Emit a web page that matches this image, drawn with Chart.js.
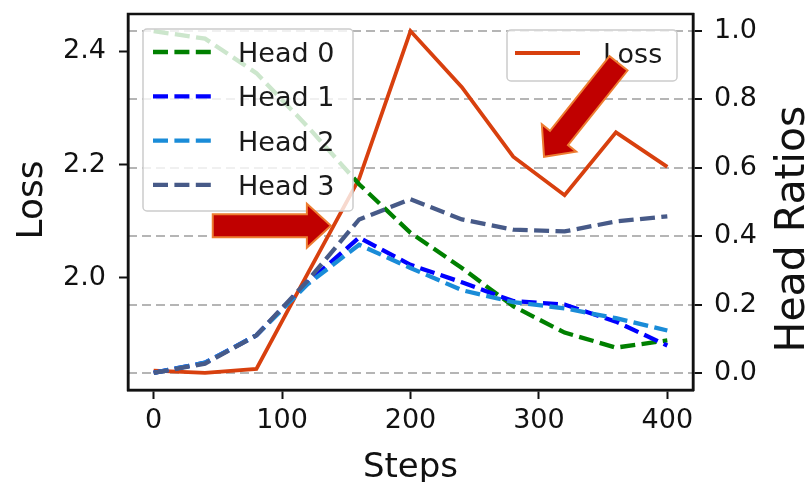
<!DOCTYPE html>
<html>
<head>
<meta charset="utf-8">
<script src="https://cdn.jsdelivr.net/npm/chart.js@4.4.0/dist/chart.umd.min.js"></script>
<style>
html, body { margin: 0; padding: 0; background: #fff; overflow: hidden; }
#wrap { width: 805px; height: 482px; }
</style>
</head>
<body>
<div id="wrap"><canvas id="myChart" width="805" height="482"></canvas></div>
<script>
// data
const steps = [0, 40, 80, 120, 160, 200, 240, 280, 320, 360, 400];
const loss  = [1.836, 1.832, 1.839, 2.008, 2.175, 2.436, 2.337, 2.214, 2.146, 2.257, 2.196];
const head0 = [1.0, 0.978, 0.877, 0.72, 0.552, 0.41, 0.307, 0.195, 0.118, 0.074, 0.095];
const head1 = [0.0, 0.03, 0.11, 0.265, 0.396, 0.316, 0.265, 0.21, 0.2, 0.15, 0.08];
const head2 = [0.0, 0.03, 0.11, 0.26, 0.375, 0.307, 0.242, 0.207, 0.189, 0.16, 0.124];
const head3 = [0.0, 0.027, 0.11, 0.27, 0.449, 0.508, 0.449, 0.419, 0.414, 0.443, 0.458];

const headLabels = ['Head 0', 'Head 1', 'Head 2', 'Head 3'];
const headColors = ['#008000', '#0000ff', '#1a8cd8', '#475a88'];
const lossColor = '#d8400e';

const stepTicks = [0, 100, 200, 300, 400];
const lossTicks = [2.0, 2.2, 2.4];
const ratioTicks = [0.0, 0.2, 0.4, 0.6, 0.8, 1.0];

// annotation arrows, in (step, loss) units
const arrows = [
    { from: [46, 2.092], to: [138, 2.092] },
    { from: [362, 2.379], to: [304, 2.214] }
];

const FONT = "'DejaVu Sans', sans-serif";
const INK = '#111';

function pts(ys) {
    return steps.map((s, i) => ({ x: s, y: ys[i] }));
}

// matplotlib style 5% margins
const lossPad = (Math.max(...loss) - Math.min(...loss)) * 0.05;
const allHeads = head0.concat(head1, head2, head3);
const headPad = (Math.max(...allHeads) - Math.min(...allHeads)) * 0.05;
const stepPad = (steps[steps.length - 1] - steps[0]) * 0.05;

const headSets = [head0, head1, head2, head3].map((h, i) => ({
    label: headLabels[i],
    data: pts(h),
    yAxisID: 'yHead',
    borderColor: headColors[i],
    borderWidth: 4.3,
    borderDash: [15, 6.4],
    borderCapStyle: 'butt',
    pointRadius: 0,
    tension: 0,
    fill: false,
    order: 4 - i
}));

function roundRect(ctx, x, y, w, h, r) {
    ctx.beginPath();
    ctx.moveTo(x + r, y);
    ctx.arcTo(x + w, y, x + w, y + h, r);
    ctx.arcTo(x + w, y + h, x, y + h, r);
    ctx.arcTo(x, y + h, x, y, r);
    ctx.arcTo(x, y, x + w, y, r);
    ctx.closePath();
}

function drawLegend(ctx, box, sets, rowH, sample) {
    ctx.save();
    roundRect(ctx, box.x, box.y, box.w, box.h, 4);
    ctx.fillStyle = 'rgba(255,255,255,0.8)';
    ctx.fill();
    ctx.strokeStyle = '#cccccc';
    ctx.lineWidth = 1.5;
    ctx.stroke();
    ctx.font = '27px ' + FONT;
    ctx.textBaseline = 'alphabetic';
    ctx.textAlign = 'left';
    sets.forEach((ds, i) => {
        const y = box.y + 23 + i * rowH;
        ctx.beginPath();
        ctx.setLineDash(ds.borderDash || []);
        ctx.lineDashOffset = 0;
        ctx.strokeStyle = ds.borderColor;
        ctx.lineWidth = ds.borderWidth;
        ctx.moveTo(box.x + sample[0], y);
        ctx.lineTo(box.x + sample[1], y);
        ctx.stroke();
        ctx.setLineDash([]);
        ctx.fillStyle = '#1a1a1a';
        ctx.fillText(ds.label, box.x + sample[2], y + 10);
    });
    ctx.restore();
}

function drawArrow(ctx, x1, y1, x2, y2) {
    const shaft = 23, headW = 44, headL = 24;
    const dx = x2 - x1, dy = y2 - y1, len = Math.hypot(dx, dy);
    const ux = dx / len, uy = dy / len, nx = -uy, ny = ux;
    const bx = x2 - ux * headL, by = y2 - uy * headL;
    const p = [
        [x1 + nx * shaft / 2, y1 + ny * shaft / 2],
        [bx + nx * shaft / 2, by + ny * shaft / 2],
        [bx + nx * headW / 2, by + ny * headW / 2],
        [x2, y2],
        [bx - nx * headW / 2, by - ny * headW / 2],
        [bx - nx * shaft / 2, by - ny * shaft / 2],
        [x1 - nx * shaft / 2, y1 - ny * shaft / 2]
    ];
    ctx.save();
    ctx.beginPath();
    ctx.moveTo(p[0][0], p[0][1]);
    for (let i = 1; i < p.length; i++) ctx.lineTo(p[i][0], p[i][1]);
    ctx.closePath();
    ctx.fillStyle = '#c00000';
    ctx.fill();
    ctx.strokeStyle = '#ed7d31';
    ctx.lineWidth = 2;
    ctx.lineJoin = 'miter';
    ctx.stroke();
    ctx.restore();
}

const extras = {
    id: 'extras',
    afterDatasetsDraw(chart) {
        const ctx = chart.ctx;
        const ca = chart.chartArea;
        // frame
        ctx.save();
        ctx.strokeStyle = INK;
        ctx.lineWidth = 2.5;
        ctx.strokeRect(ca.left, ca.top, ca.right - ca.left, ca.bottom - ca.top);
        ctx.restore();

        // legends
        const heads = chart.data.datasets.filter(d => d.yAxisID === 'yHead');
        const lossSet = chart.data.datasets.filter(d => d.yAxisID === 'yLoss');
        drawLegend(ctx, { x: ca.left + 15, y: ca.top + 15, w: 210, h: 182 }, heads, 44.3, [10, 70, 95]);
        drawLegend(ctx, { x: ca.right - 186, y: ca.top + 16, w: 170, h: 51 }, lossSet, 44, [8, 73, 96]);

        // axis titles
        ctx.save();
        ctx.fillStyle = INK;
        ctx.textAlign = 'center';
        ctx.textBaseline = 'alphabetic';
        ctx.font = '34px ' + FONT;
        ctx.fillText('Steps', (ca.left + ca.right) / 2, 477);
        ctx.save();
        ctx.translate(42, (ca.top + ca.bottom) / 2 - 2);
        ctx.rotate(-Math.PI / 2);
        ctx.font = '36px ' + FONT;
        ctx.fillText('Loss', 0, 0);
        ctx.restore();
        ctx.save();
        ctx.translate(804, (ca.top + ca.bottom) / 2 + 27);
        ctx.rotate(-Math.PI / 2);
        ctx.font = '41px ' + FONT;
        ctx.fillText('Head Ratios', 0, 0);
        ctx.restore();
        ctx.restore();

        // arrows
        const xs = chart.scales.x, ys = chart.scales.yLoss;
        arrows.forEach(a => {
            drawArrow(ctx,
                xs.getPixelForValue(a.from[0]), ys.getPixelForValue(a.from[1]),
                xs.getPixelForValue(a.to[0]), ys.getPixelForValue(a.to[1]));
        });
    }
};

function noPad(s) {
    s.paddingTop = 0; s.paddingBottom = 0; s.paddingLeft = 0; s.paddingRight = 0;
}

const ctx = document.getElementById('myChart').getContext('2d');
const myChart = new Chart(ctx, {
    type: 'line',
    data: {
        datasets: [{
            label: 'Loss',
            data: pts(loss),
            yAxisID: 'yLoss',
            borderColor: lossColor,
            borderWidth: 3.8,
            pointRadius: 0,
            tension: 0,
            fill: false,
            order: 5
        }].concat(headSets)
    },
    options: {
        responsive: false,
        animation: false,
        devicePixelRatio: 1,
        layout: { padding: { top: 14, left: 0, right: 0, bottom: 0 } },
        plugins: { legend: { display: false }, tooltip: { enabled: false } },
        scales: {
            x: {
                type: 'linear',
                min: steps[0] - stepPad,
                max: steps[steps.length - 1] + stepPad,
                afterBuildTicks: s => { s.ticks = stepTicks.map(v => ({ value: v })); },
                afterFit: s => { s.height = 92; noPad(s); },
                ticks: {
                    font: { family: FONT, size: 27, lineHeight: 1 },
                    color: INK, padding: 8, maxRotation: 0, autoSkip: false,
                    callback: v => String(v)
                },
                grid: { drawOnChartArea: false, drawTicks: true, tickLength: 9, tickWidth: 2, tickColor: INK },
                border: { display: true, color: INK, width: 2.5 }
            },
            yLoss: {
                type: 'linear',
                position: 'left',
                min: Math.min(...loss) - lossPad,
                max: Math.max(...loss) + lossPad,
                afterBuildTicks: s => { s.ticks = lossTicks.map(v => ({ value: v })); },
                afterFit: s => { s.width = 128; noPad(s); },
                ticks: {
                    font: { family: FONT, size: 27, lineHeight: 1 },
                    color: INK, padding: 13,
                    callback: v => v.toFixed(1)
                },
                grid: { drawOnChartArea: false, drawTicks: true, tickLength: 9, tickWidth: 2, tickColor: INK },
                border: { display: true, color: INK, width: 2.5 }
            },
            yHead: {
                type: 'linear',
                position: 'right',
                min: Math.min(...allHeads) - headPad,
                max: Math.max(...allHeads) + headPad,
                afterBuildTicks: s => { s.ticks = ratioTicks.map(v => ({ value: v })); },
                afterFit: s => { s.width = 112; noPad(s); },
                ticks: {
                    font: { family: FONT, size: 27, lineHeight: 1 },
                    color: INK, padding: 12,
                    callback: v => v.toFixed(1)
                },
                grid: {
                    drawOnChartArea: true, color: '#b5b5b5', lineWidth: 2,
                    drawTicks: true, tickLength: 9, tickWidth: 2, tickColor: INK, tickBorderDash: []
                },
                border: { display: true, color: INK, width: 2.5, dash: [9, 5] }
            }
        }
    },
    plugins: [extras]
});
</script>
</body>
</html>
